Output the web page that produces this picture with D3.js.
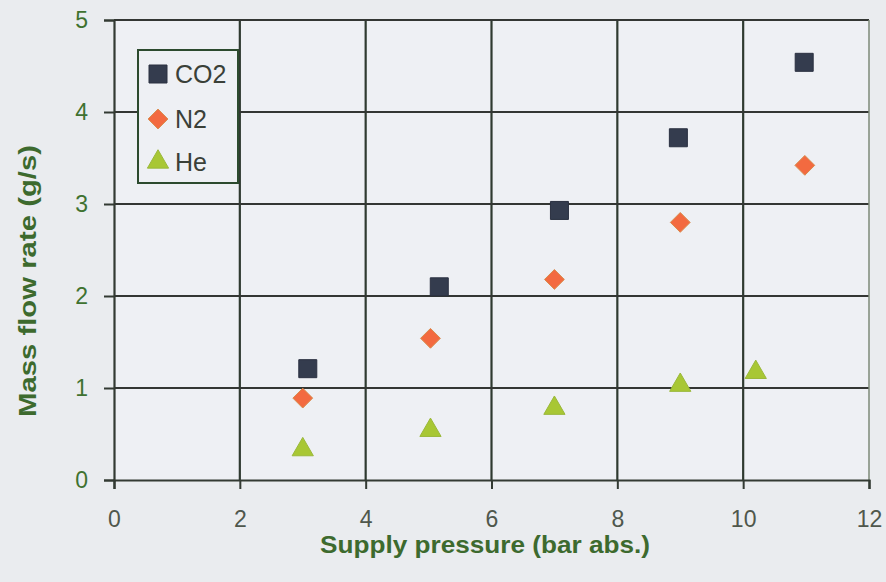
<!DOCTYPE html>
<html>
<head>
<meta charset="utf-8">
<script src="https://cdn.jsdelivr.net/npm/d3@7"></script>
<style>
  html, body { margin: 0; padding: 0; background: #eaecef; }
  svg { display: block; }
  text { font-family: "Liberation Sans", Arial, sans-serif; }
</style>
</head>
<body>
<svg id="chart" width="886" height="582"></svg>
<script>
// Measured mass flow rate vs. supply pressure for three gases
const co2Pressure = [3.08, 5.17, 7.08, 8.97, 10.97];
const co2Flow     = [1.21, 2.10, 2.93, 3.72, 4.54];
const n2Pressure  = [3.0, 5.03, 7.0, 9.0, 10.98];
const n2Flow      = [0.89, 1.54, 2.18, 2.80, 3.42];
const hePressure  = [3.0, 5.03, 7.0, 9.0, 10.2];
const heFlow      = [0.33, 0.54, 0.78, 1.03, 1.17];
const xTicks = [0, 2, 4, 6, 8, 10, 12];
const yTicks = [0, 1, 2, 3, 4, 5];
const seriesNames = ["CO2", "N2", "He"];

const svg = d3.select("#chart");
const plotL = 114, plotR = 869, plotT = 20, plotB = 480;

const x = d3.scaleLinear().domain([0, 12]).range([plotL, plotR]);
const y = d3.scaleLinear().domain([0, 5]).range([plotB, plotT]);

// plot area
svg.append("rect")
  .attr("x", plotL).attr("y", plotT)
  .attr("width", plotR - plotL).attr("height", plotB - plotT)
  .attr("fill", "#eef0f4");

// grid
const grid = svg.append("g");
grid.selectAll(".gx").data(xTicks.filter(d => d > 0 && d < 12)).join("line")
  .attr("x1", d => x(d)).attr("x2", d => x(d))
  .attr("y1", plotT).attr("y2", plotB)
  .attr("stroke", "#2f3a30").attr("stroke-width", 2.2);
grid.selectAll(".gy").data(yTicks.filter(d => d > 0)).join("line")
  .attr("x1", plotL).attr("x2", plotR)
  .attr("y1", d => y(d)).attr("y2", d => y(d))
  .attr("stroke", "#333633").attr("stroke-width", 2.2);
// right border
svg.append("line")
  .attr("x1", plotR).attr("x2", plotR).attr("y1", plotT).attr("y2", plotB)
  .attr("stroke", "#7d8a78").attr("stroke-width", 1.5);

// axes
const xAxis = svg.append("g").attr("transform", `translate(0,${plotB})`)
  .call(d3.axisBottom(x).tickValues(xTicks).tickSize(9).tickPadding(22).tickFormat(d3.format("d")));
const yAxis = svg.append("g").attr("transform", `translate(${plotL},0)`)
  .call(d3.axisLeft(y).tickValues(yTicks).tickSize(10).tickPadding(16).tickFormat(d3.format("d")));

[xAxis, yAxis].forEach(a => {
  a.select(".domain").attr("stroke", "#333a33").attr("stroke-width", 2.2);
  a.selectAll(".tick line").attr("stroke", "#333a33").attr("stroke-width", 2);
  a.selectAll(".tick text").attr("font-size", 23).attr("font-family", "'Liberation Sans', Arial, sans-serif");
});
xAxis.selectAll(".tick text").attr("fill", "#4f574c");
yAxis.selectAll(".tick text").attr("fill", "#3f7230");

// axis titles
svg.append("text")
  .attr("x", 485).attr("y", 553)
  .attr("text-anchor", "middle")
  .attr("font-size", 24).attr("font-weight", "bold")
  .attr("textLength", 330).attr("lengthAdjust", "spacingAndGlyphs")
  .attr("fill", "#3d6a2e")
  .text("Supply pressure (bar abs.)");
svg.append("text")
  .attr("transform", "translate(36,281) rotate(-90)")
  .attr("text-anchor", "middle")
  .attr("font-size", 24).attr("font-weight", "bold")
  .attr("textLength", 272).attr("lengthAdjust", "spacingAndGlyphs")
  .attr("fill", "#3d6a2e")
  .text("Mass flow rate (g/s)");

// marker shapes
const symType = { CO2: d3.symbolSquare, N2: d3.symbolDiamond2, He: d3.symbolTriangle };
const symSize = { CO2: 324, N2: 250, He: 195 };
const style = {
  CO2: { fill: "#343c4e", stroke: "#2a3040" },
  N2:  { fill: "#f36a40", stroke: "#d88a4a" },
  He:  { fill: "#a8c734", stroke: "#9ab83a" }
};
const seriesData = {
  CO2: co2Pressure.map((p, i) => [p, co2Flow[i]]),
  N2:  n2Pressure.map((p, i) => [p, n2Flow[i]]),
  He:  hePressure.map((p, i) => [p, heFlow[i]])
};

seriesNames.forEach(name => {
  svg.append("g").selectAll("path").data(seriesData[name]).join("path")
    .attr("d", d3.symbol().type(symType[name]).size(symSize[name])())
    .attr("transform", d => `translate(${x(d[0])},${y(d[1])})`)
    .attr("fill", style[name].fill)
    .attr("stroke", style[name].stroke).attr("stroke-width", 1);
});

// legend
const lg = svg.append("g");
lg.append("rect")
  .attr("x", 138).attr("y", 50).attr("width", 100).attr("height", 133)
  .attr("fill", "#eef0f4").attr("stroke", "#2c4a2e").attr("stroke-width", 2);
const legendY = [74, 119, 162];
seriesNames.forEach((name, i) => {
  const cy = legendY[i];
  lg.append("path")
    .attr("d", d3.symbol().type(symType[name]).size(symSize[name])())
    .attr("transform", `translate(158,${cy})`)
    .attr("fill", style[name].fill).attr("stroke", style[name].stroke);
  lg.append("text")
    .attr("x", 175).attr("y", cy + 9)
    .attr("font-size", 25).attr("fill", "#3a4038")
    .text(name);
});
</script>
</body>
</html>
